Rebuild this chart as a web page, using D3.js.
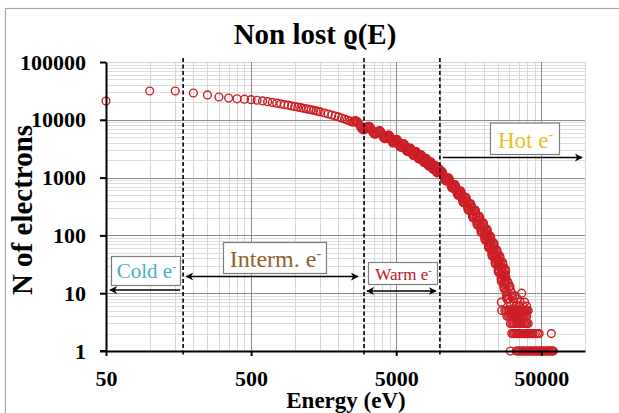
<!DOCTYPE html>
<html>
<head>
<meta charset="utf-8">
<script src="https://cdn.jsdelivr.net/npm/d3@7"></script>
<style>
  html, body { margin: 0; padding: 0; background: #fff; }
  svg { display: block; }
</style>
</head>
<body>
<svg id="chart" width="619" height="413"></svg>
<script>
// Electron counts per energy bin.
// Low energies: 50 eV bins up to 1500 eV, then 100 eV
const lowEV = [
  50, 100, 150, 200, 250, 300, 350, 400, 450, 500,
  550, 600, 650, 700, 750, 800, 850, 900, 950, 1000,
  1050, 1100, 1150, 1200, 1250, 1300, 1350, 1400, 1450, 1500,
  1600, 1700, 1800, 1900, 2000, 2100, 2200, 2300, 2400
];
const lowN = [
  21100, 31500, 31500, 29100, 26900, 24800, 23800, 23100, 22700, 22300,
  21800, 21200, 20600, 20000, 19400, 18800, 18300, 17900, 17400, 17000,
  16600, 16200, 15800, 15500, 15200, 14900, 14600, 14300, 14000, 13700,
  13100, 12600, 12100, 11600, 11200, 10750, 10300, 9900, 9500
];

// Dense part of the band, 2500 - 10000 eV
const midEV = [
  2500, 2550, 2600, 2650, 2700, 2750, 2800, 2850, 2900, 2950, 3000, 3050,
  3100, 3150, 3200, 3250, 3300, 3350, 3400, 3450, 3500, 3550, 3600, 3650,
  3700, 3750, 3800, 3850, 3900, 3950, 4000, 4050, 4100, 4150, 4200, 4250,
  4300, 4350, 4400, 4450, 4500, 4550, 4600, 4650, 4700, 4750, 4800, 4850,
  4900, 4950, 5000, 5050, 5100, 5150, 5200, 5250, 5300, 5350, 5400, 5450,
  5500, 5550, 5600, 5650, 5700, 5750, 5800, 5850, 5900, 5950, 6000, 6050,
  6100, 6150, 6200, 6250, 6300, 6350, 6400, 6450, 6500, 6550, 6600, 6650,
  6700, 6750, 6800, 6850, 6900, 6950, 7000, 7050, 7100, 7150, 7200, 7250,
  7300, 7350, 7400, 7450, 7500, 7550, 7600, 7650, 7700, 7750, 7800, 7850,
  7900, 7950, 8000, 8050, 8100, 8150, 8200, 8250, 8300, 8350, 8400, 8450,
  8500, 8550, 8600, 8650, 8700, 8750, 8800, 8850, 8900, 8950, 9000, 9050,
  9100, 9150, 9200, 9250, 9300, 9350, 9400, 9450, 9500, 9550, 9600, 9650,
  9700, 9750, 9800, 9850, 9900, 9950, 10000
];
const midN = [
  9100, 9450, 9600, 9580, 9210, 8700, 8035, 7400, 7015, 6720, 6730, 6850,
  7187, 7510, 7680, 7710, 7460, 7090, 6590, 6110, 5830, 5620, 5660, 5770,
  6047, 6320, 6460, 6490, 6280, 5970, 5546, 5140, 4900, 4730, 4760, 4850,
  5088, 5320, 5440, 5460, 5280, 5020, 4667, 4325, 4130, 3980, 4010, 4080,
  4281, 4470, 4575, 4590, 4445, 4225, 3926, 3640, 3470, 3350, 3375, 3435,
  3602, 3765, 3850, 3865, 3740, 3555, 3304, 3060, 2920, 2815, 2840, 2890,
  3030, 3165, 3240, 3250, 3155, 3005, 2804, 2605, 2495, 2410, 2435, 2490,
  2617, 2740, 2815, 2830, 2750, 2620, 2442, 2270, 2170, 2100, 2120, 2165,
  2279, 2390, 2450, 2465, 2395, 2280, 2127, 1975, 1890, 1830, 1850, 1890,
  1985, 2080, 2135, 2150, 2085, 1985, 1853, 1720, 1650, 1595, 1610, 1645,
  1730, 1815, 1860, 1870, 1815, 1730, 1614, 1500, 1435, 1390, 1405, 1435,
  1506, 1580, 1620, 1630, 1580, 1505, 1405, 1305, 1250, 1210, 1220, 1245,
  1312, 1375, 1410, 1420, 1380, 1310, 1224
];

// Hot part, 10100 - 32000 eV
const highEV = [
  10100, 10200, 10300, 10400, 10500, 10600, 10700, 10800, 10900, 11000, 11100,
  11200, 11300, 11400, 11500, 11600, 11700, 11800, 11900, 12000, 12100, 12200, 12300,
  12400, 12500, 12600, 12700, 12800, 12900, 13000, 13100, 13200, 13300, 13400, 13500,
  13600, 13700, 13800, 13900, 14000, 14100, 14200, 14300, 14400, 14500, 14600, 14700,
  14800, 14900, 15000, 15100, 15200, 15300, 15400, 15500, 15600, 15700, 15800, 15900,
  16000, 16100, 16200, 16300, 16400, 16500, 16600, 16700, 16800, 16900, 17000, 17100,
  17200, 17300, 17400, 17500, 17600, 17700, 17800, 17900, 18000, 18100, 18200, 18300,
  18400, 18500, 18600, 18700, 18800, 18900, 19000, 19100, 19200, 19300, 19400, 19500,
  19600, 19700, 19800, 19900, 20000, 20100, 20200, 20300, 20400, 20500, 20600, 20700,
  20800, 20900, 21000,
  21100, 21200, 21300, 21400, 21500, 21600, 21700, 21800, 21900,
  22000, 22100, 22200, 22300, 22400, 22500, 22600, 22700, 22800, 22900, 23000, 23100,
  23200, 23300, 23400, 23500, 23600, 23700, 23800, 23900, 24000, 24100, 24200, 24300,
  24400, 24500, 24600, 24700, 24800, 24900, 25000, 25100, 25200, 25300, 25400, 25500,
  25600, 25700, 25800, 25900, 26000, 26100, 26200, 26300, 26400, 26500, 26600, 26700,
  26800, 26900, 27000, 27100, 27200, 27300, 27400, 27500, 27600, 27700, 27800, 27900,
  28000, 28100, 28200, 28300, 28400, 28500, 28600, 28700, 28800, 28900, 29000, 29100,
  29200, 29400, 29600, 29800, 30000, 30200, 30400, 30600, 30800, 31000, 31200, 31400,
  31600, 31800, 32000
];
const highN = [
  1267, 1292, 1282, 1234, 1156, 1066, 983, 921, 887, 880, 897,
  928, 967, 990, 983, 946, 882, 809, 742, 692, 665, 660, 677,
  704, 737, 758, 755, 724, 673, 613, 559, 520, 499, 496, 510,
  534, 566, 587, 586, 561, 516, 465, 420, 386, 370, 369, 383,
  405, 434, 454, 455, 434, 396, 353, 315, 287, 274, 274, 287,
  307, 333, 351, 353, 336, 304, 268, 236, 214, 203, 204, 215,
  233, 256, 272, 274, 260, 233, 203, 177, 159, 151, 152, 161,
  177, 196, 211, 213, 201, 179, 154, 133, 118, 112, 113, 121,
  134, 151, 163, 165, 156, 137, 117, 99, 88, 83, 84, 91,
  102, 116, 126,
  128, 120, 105, 88, 74, 65, 61, 61, 67,
  76, 87, 96, 97, 91, 79, 65, 54, 47, 44, 45, 49,
  56, 65, 72, 74, 69, 59, 48, 40, 34, 32, 33, 36,
  42, 49, 55, 56, 52, 44, 36, 29, 25, 23, 24, 26,
  31, 37, 42, 44, 40, 34, 27, 21, 18, 16, 17, 19,
  23, 28, 33, 34, 31, 26, 20, 15, 13, 12, 12, 14,
  17, 21, 25, 26, 24, 19, 15, 11, 9, 8, 9, 10,
  16, 8, 15, 8, 13, 7, 13, 6, 11, 5, 10, 5,
  9, 4, 8
];

// Sparse high-energy tail (low counts)
const tailEV = [
  26500, 26700, 32400, 33000, 33600, 34200, 35000, 35800, 36600, 37400, 38400, 39500,
  28000, 28700, 29400, 30100, 30800, 31500, 32200, 32900, 33600, 34300, 35000, 35700,
  36400, 37100, 37800, 38500, 39200, 39900, 40600,
  29000, 29700, 30400, 31100, 31800, 32500, 33200, 33900, 34600, 35300, 36000, 36700,
  37400, 38100, 38800, 39700,
  30600, 31300, 32000, 32700, 33400, 34100, 34800, 35500, 36200, 36900, 37600, 38300,
  39000, 39800, 40600,
  31300, 32000, 32700, 33400, 34100, 34800, 35500, 36200, 36900, 37600, 38300, 39000,
  39700, 40400, 41100, 41800, 42500, 43200, 44000, 45500, 47000, 48300, 58600,
  30600, 33600, 34400, 35200, 36000, 36800, 37600, 38400, 39300, 40200, 41100, 42000,
  42900, 43800, 44700, 45600, 46500, 47400, 48300, 49200, 50100, 51000, 52000, 53000,
  54000, 55000, 56000, 57000, 58000, 59000, 60000, 60500
];
const tailN = [
  7, 5, 7, 9, 6, 8, 6, 7, 10, 6, 7, 6,
  5, 5, 5, 5, 5, 5, 5, 5, 5, 5, 5, 5,
  5, 5, 5, 5, 5, 5, 5,
  4, 4, 4, 4, 4, 4, 4, 4, 4, 4, 4, 4,
  4, 4, 4, 4,
  3, 3, 3, 3, 3, 3, 3, 3, 3, 3, 3, 3,
  3, 3, 3,
  2, 2, 2, 2, 2, 2, 2, 2, 2, 2, 2, 2,
  2, 2, 2, 2, 2, 2, 2, 2, 2, 2, 2,
  1, 1, 1, 1, 1, 1, 1, 1, 1, 1, 1, 1,
  1, 1, 1, 1, 1, 1, 1, 1, 1, 1, 1, 1,
  1, 1, 1, 1, 1, 1, 1, 1
];

const xTicks = [50, 500, 5000, 50000];
const yTicks = [1, 10, 100, 1000, 10000, 100000];
const boundaryEV = [170, 3000, 10000];

const regionLabels = ['Cold e', 'Interm. e', 'Warm e', 'Hot e'];
const regionColors = ['#4aaec6', '#93602e', '#c0141c', '#e8c024'];

const width = 619;
const height = 413;
const margin = { top: 62, right: 34, bottom: 62, left: 106 };
const serif = '"Liberation Serif", "Times New Roman", "DejaVu Serif", serif';

const svg = d3.select('#chart');

const x = d3.scaleLog().domain([50, 100000]).range([margin.left, width - margin.right]);
const y = d3.scaleLog().domain([1, 100000]).range([height - margin.bottom, margin.top]);

// outer frame
svg.append('rect')
  .attr('x', 5.5).attr('y', 8.5)
  .attr('width', 640).attr('height', 420)
  .attr('fill', '#fff')
  .attr('stroke', '#a6a6a6')
  .attr('stroke-width', 1.2);

// grid: minor lines are k * major for k = 2..9
const xMinor = [];
xTicks.forEach(m => { for (let k = 2; k <= 9; k++) if (m * k <= 100000) xMinor.push(m * k); });
const yMinor = [];
yTicks.forEach(m => { for (let k = 2; k <= 9; k++) if (m * k < 100000) yMinor.push(m * k); });

const grid = svg.append('g');
grid.selectAll('line.ymin').data(yMinor).enter().append('line')
  .attr('x1', x.range()[0]).attr('x2', x.range()[1])
  .attr('y1', d => Math.round(y(d)) + 0.5).attr('y2', d => Math.round(y(d)) + 0.5)
  .attr('stroke', '#dcdcdc').attr('stroke-width', 1);
grid.selectAll('line.xmin').data(xMinor).enter().append('line')
  .attr('x1', d => Math.round(x(d)) + 0.5).attr('x2', d => Math.round(x(d)) + 0.5)
  .attr('y1', y.range()[1]).attr('y2', y.range()[0])
  .attr('stroke', '#d6d6d6').attr('stroke-width', 1);
grid.selectAll('line.ymaj').data(yTicks).enter().append('line')
  .attr('x1', x.range()[0]).attr('x2', x.range()[1])
  .attr('y1', d => Math.round(y(d)) + 0.5).attr('y2', d => Math.round(y(d)) + 0.5)
  .attr('stroke', d => d === 100000 ? '#cfcfcf' : '#8c8c8c').attr('stroke-width', 1);
grid.selectAll('line.xmaj').data(xTicks).enter().append('line')
  .attr('x1', d => Math.round(x(d)) + 0.5).attr('x2', d => Math.round(x(d)) + 0.5)
  .attr('y1', y.range()[1]).attr('y2', y.range()[0])
  .attr('stroke', '#8c8c8c').attr('stroke-width', 1);

// data points
const toPts = (es, ns) => es.map((e, i) => ({ e, n: ns[i] }));
const pts = [
  ...toPts(lowEV, lowN),
  ...toPts(midEV, midN),
  ...toPts(highEV, highN),
  ...toPts(tailEV, tailN)
];
svg.append('g').selectAll('circle').data(pts).enter().append('circle')
  .attr('cx', d => x(d.e))
  .attr('cy', d => y(d.n))
  .attr('r', 3.9)
  .attr('fill', 'none')
  .attr('stroke', '#cc1f26')
  .attr('stroke-width', 1.4);

// axes
const yAxis = svg.append('g')
  .attr('transform', `translate(${margin.left},0)`)
  .call(d3.axisLeft(y).tickValues(yTicks).tickFormat(d3.format('d')).tickSize(6).tickSizeOuter(0).tickPadding(14));
const xAxis = svg.append('g')
  .attr('transform', `translate(0,${height - margin.bottom})`)
  .call(d3.axisBottom(x).tickValues(xTicks).tickFormat(d3.format('d')).tickSize(5).tickSizeOuter(0).tickPadding(14));
[xAxis, yAxis].forEach(a => {
  a.select('.domain').attr('stroke', '#000').attr('stroke-width', 2);
  a.selectAll('.tick line').attr('stroke', '#000').attr('stroke-width', 2);
  a.selectAll('.tick text')
    .attr('fill', '#000')
    .style('font-family', serif)
    .style('font-weight', 'bold')
    .style('font-size', '22px');
});
svg.append('line')
  .attr('x1', margin.left - 6).attr('x2', margin.left)
  .attr('y1', y(1)).attr('y2', y(1))
  .attr('stroke', '#000').attr('stroke-width', 2);

// region boundaries
svg.append('g').selectAll('line').data(boundaryEV).enter().append('line')
  .attr('x1', d => x(d)).attr('x2', d => x(d))
  .attr('y1', margin.top - 4).attr('y2', height - margin.bottom + 6)
  .attr('stroke', '#000')
  .attr('stroke-width', 1.6)
  .attr('stroke-dasharray', '4,2.5');

// arrow heads
svg.append('defs').append('marker')
  .attr('id', 'ah')
  .attr('viewBox', '0 0 10 10')
  .attr('refX', 9).attr('refY', 5)
  .attr('markerWidth', 5).attr('markerHeight', 5)
  .attr('orient', 'auto-start-reverse')
  .attr('markerUnits', 'strokeWidth')
  .append('path')
  .attr('d', 'M0,0 L10,5 L0,10 L3,5 Z')
  .attr('fill', '#000');

const edges = [50, ...boundaryEV, 100000];
const arrowY = [290, 276.5, 291, 157.5];
const arrowHeads = [[true, false], [true, true], [true, true], [false, true]];
const boxes = [
  { x0: 111, x1: 180, y0: 256, y1: 285, size: 21, base: 278 },
  { x0: 223, x1: 326, y0: 242, y1: 273, size: 24, base: 267 },
  { x0: 368, x1: 437, y0: 262, y1: 284, size: 17, base: 280 },
  { x0: 490, x1: 559, y0: 122.5, y1: 154, size: 23, base: 147.5 }
];
const insetL = [4, 3, 3, 3];
const insetR = [3, 6, 4, 3];

regionLabels.forEach((lab, i) => {
  const line = svg.append('line')
    .attr('x1', x(edges[i]) + insetL[i])
    .attr('x2', x(edges[i + 1]) - insetR[i])
    .attr('y1', arrowY[i]).attr('y2', arrowY[i])
    .attr('stroke', '#000')
    .attr('stroke-width', 1.6);
  if (arrowHeads[i][0]) line.attr('marker-start', 'url(#ah)');
  if (arrowHeads[i][1]) line.attr('marker-end', 'url(#ah)');

  const b = boxes[i];
  svg.append('rect')
    .attr('x', b.x0 + 0.5).attr('y', b.y0 + 0.5)
    .attr('width', b.x1 - b.x0).attr('height', b.y1 - b.y0)
    .attr('fill', '#fff')
    .attr('stroke', '#7f7f7f')
    .attr('stroke-width', 1.2);
  const t = svg.append('text')
    .attr('x', (b.x0 + b.x1) / 2 + 1)
    .attr('y', b.base)
    .attr('text-anchor', 'middle')
    .attr('fill', regionColors[i])
    .style('font-family', serif)
    .style('font-size', b.size + 'px')
    .text(lab);
  t.append('tspan')
    .attr('dy', -b.size * 0.38)
    .style('font-size', (b.size * 0.6) + 'px')
    .text('-');
});

// titles
svg.append('text')
  .attr('x', 315).attr('y', 44)
  .attr('text-anchor', 'middle')
  .style('font-family', serif)
  .style('font-weight', 'bold')
  .style('font-size', '29px')
  .text('Non lost ϱ(E)');

svg.append('text')
  .attr('x', 346).attr('y', 408)
  .attr('text-anchor', 'middle')
  .style('font-family', serif)
  .style('font-weight', 'bold')
  .style('font-size', '23px')
  .text('Energy (eV)');

svg.append('text')
  .attr('transform', 'translate(32,210) rotate(-90)')
  .attr('text-anchor', 'middle')
  .style('font-family', serif)
  .style('font-weight', 'bold')
  .style('font-size', '29px')
  .text('N of electrons');
</script>
</body>
</html>
